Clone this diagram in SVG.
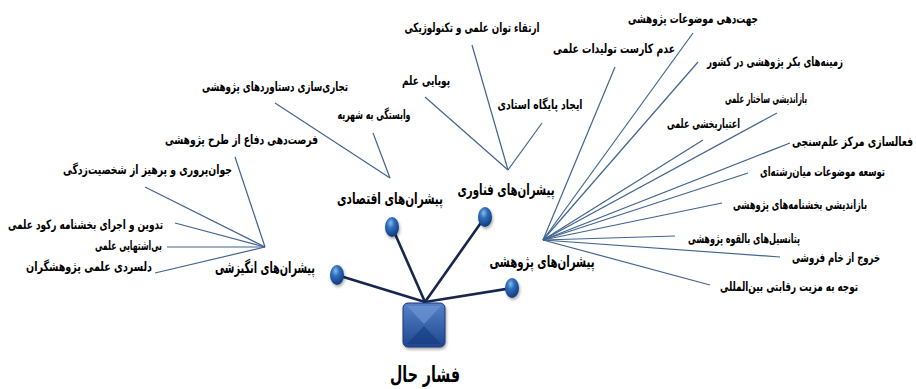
<svg xmlns="http://www.w3.org/2000/svg" width="916" height="389" viewBox="0 0 916 389">
<defs>
<style>
.t{font-family:"DejaVu Sans Condensed","DejaVu Sans",sans-serif;font-stretch:condensed;font-weight:bold;font-size:13px;fill:#000}
.m{font-family:"DejaVu Sans Condensed","DejaVu Sans",sans-serif;font-stretch:condensed;font-weight:bold;font-size:16px;fill:#000;text-anchor:middle}
.c{font-family:"DejaVu Sans Condensed","DejaVu Sans",sans-serif;font-stretch:condensed;font-weight:bold;font-size:22px;fill:#000;text-anchor:middle}
.s{text-anchor:start}
.e{text-anchor:end}
.mid{text-anchor:middle}
.leaf{stroke:#41648f;stroke-width:1.2;fill:none}
.spoke{stroke:#17264f;stroke-width:2.6;fill:none;stroke-linecap:round}
.ball{fill:url(#bg)}
</style>
<radialGradient id="bg" cx="0.4" cy="0.3" r="0.75">
<stop offset="0" stop-color="#8bbcea"/>
<stop offset="0.35" stop-color="#2f6fbe"/>
<stop offset="1" stop-color="#0f3474"/>
</radialGradient>
<linearGradient id="sq" x1="0" y1="0" x2="0" y2="1">
<stop offset="0" stop-color="#5582c8"/>
<stop offset="1" stop-color="#1f4690"/>
</linearGradient>
<filter id="sh" x="-30%" y="-30%" width="160%" height="160%">
<feGaussianBlur in="SourceAlpha" stdDeviation="1.5"/>
<feOffset dx="1" dy="2" result="b"/>
<feComponentTransfer><feFuncA type="linear" slope="0.35"/></feComponentTransfer>
<feMerge><feMergeNode/><feMergeNode in="SourceGraphic"/></feMerge>
</filter>
</defs>
<rect width="916" height="389" fill="#fff"/>

<g id="connectors">
<g class="leaf">
<line x1="265" y1="247" x2="235" y2="157"/>
<line x1="265" y1="247" x2="145" y2="187"/>
<line x1="265" y1="247" x2="175" y2="223"/>
<line x1="265" y1="247" x2="167" y2="247"/>
<line x1="265" y1="247" x2="155" y2="273"/>
<line x1="390" y1="178" x2="275" y2="103"/>
<line x1="390" y1="178" x2="373" y2="133"/>
<line x1="508" y1="170" x2="472" y2="45"/>
<line x1="508" y1="170" x2="425" y2="97"/>
<line x1="508" y1="170" x2="542" y2="123"/>
<line x1="543" y1="240" x2="693" y2="33"/>
<line x1="543" y1="240" x2="615" y2="67"/>
<line x1="543" y1="240" x2="698" y2="62"/>
<line x1="543" y1="240" x2="777" y2="113"/>
<line x1="543" y1="240" x2="703" y2="140"/>
<line x1="543" y1="240" x2="790" y2="143"/>
<line x1="543" y1="240" x2="748" y2="173"/>
<line x1="543" y1="240" x2="722" y2="203"/>
<line x1="543" y1="240" x2="675" y2="236"/>
<line x1="543" y1="240" x2="780" y2="257"/>
<line x1="543" y1="240" x2="710" y2="285"/>
</g>
<g class="spoke">
<line x1="425" y1="302" x2="337" y2="275"/>
<line x1="425" y1="302" x2="392" y2="227"/>
<line x1="425" y1="302" x2="485" y2="217"/>
<line x1="425" y1="302" x2="512" y2="288"/>
</g>
</g>

<g id="center">
<g filter="url(#sh)">
<rect x="403" y="303" width="42" height="44" rx="5" fill="url(#sq)" stroke="#1a3a7a" stroke-width="1"/>
<polygon points="407,306 441,306 424,324" fill="#6d95d3" opacity="0.7"/>
<polygon points="407,344 441,344 424,326" fill="#163b80" opacity="0.6"/>
</g>
<text class="c" x="425" y="382" textLength="70" lengthAdjust="spacingAndGlyphs">فشار حال</text>
</g>

<g id="motivational">
<ellipse class="ball" cx="337" cy="275" rx="7" ry="10" filter="url(#sh)"/>
<text class="m" x="265" y="273" textLength="100" lengthAdjust="spacingAndGlyphs">پیشران‌های انگیزشی</text>
<text class="t s" x="165" y="144" textLength="153" lengthAdjust="spacingAndGlyphs">فرصت‌دهی دفاع از طرح پژوهشی</text>
<text class="t s" x="63" y="174" textLength="169" lengthAdjust="spacingAndGlyphs">جوان‌پروری و پرهیز از شخصیت‌زدگی</text>
<text class="t s" x="8" y="229" textLength="155" lengthAdjust="spacingAndGlyphs">تدوین و اجرای بخشنامه رکود علمی</text>
<text class="t s" x="95" y="250" textLength="67" lengthAdjust="spacingAndGlyphs">بی‌اشتهایی علمی</text>
<text class="t s" x="26" y="271" textLength="126" lengthAdjust="spacingAndGlyphs">دلسردی علمی پژوهشگران</text>
</g>

<g id="economic">
<ellipse class="ball" cx="392" cy="227" rx="7" ry="10" filter="url(#sh)"/>
<text class="m" x="390" y="204" textLength="106" lengthAdjust="spacingAndGlyphs">پیشران‌های اقتصادی</text>
<text class="t mid" x="275" y="91" textLength="146" lengthAdjust="spacingAndGlyphs">تجاری‌سازی دستاوردهای پژوهشی</text>
<text class="t mid" x="374" y="119" textLength="73" lengthAdjust="spacingAndGlyphs">وابستگی به شهریه</text>
</g>

<g id="technology">
<ellipse class="ball" cx="485" cy="217" rx="7" ry="10" filter="url(#sh)"/>
<text class="m" x="506" y="195" textLength="97" lengthAdjust="spacingAndGlyphs">پیشران‌های فناوری</text>
<text class="t mid" x="472" y="32" textLength="135" lengthAdjust="spacingAndGlyphs">ارتقاء توان علمی و تکنولوژیکی</text>
<text class="t mid" x="426" y="85" textLength="48" lengthAdjust="spacingAndGlyphs">پویایی علم</text>
<text class="t mid" x="540" y="109" textLength="85" lengthAdjust="spacingAndGlyphs">ایجاد پایگاه استادی</text>
</g>

<g id="research">
<ellipse class="ball" cx="512" cy="288" rx="7" ry="10" filter="url(#sh)"/>
<text class="m" x="542" y="267" textLength="105" lengthAdjust="spacingAndGlyphs">پیشران‌های پژوهشی</text>
<text class="t e" transform="translate(758,23) scale(0.75,1)" textLength="173.3" lengthAdjust="spacingAndGlyphs">جهت‌دهی موضوعات پژوهشی</text>
<text class="t e" transform="translate(675,53) scale(0.75,1)" textLength="162.7" lengthAdjust="spacingAndGlyphs">عدم کارست تولیدات علمی</text>
<text class="t e" transform="translate(843,66) scale(0.75,1)" textLength="181.3" lengthAdjust="spacingAndGlyphs">زمینه‌های بکر پژوهشی در کشور</text>
<text class="t e" transform="translate(807,103) scale(0.75,1)" textLength="109.3" lengthAdjust="spacingAndGlyphs">بازاندیشی ساختار علمی</text>
<text class="t e" transform="translate(740,128) scale(0.75,1)" textLength="97.3" lengthAdjust="spacingAndGlyphs">اعتباربخشی علمی</text>
<text class="t e" transform="translate(913,146) scale(0.75,1)" textLength="161.3" lengthAdjust="spacingAndGlyphs">فعالسازی مرکز علم‌سنجی</text>
<text class="t e" transform="translate(885,176) scale(0.75,1)" textLength="166.7" lengthAdjust="spacingAndGlyphs">توسعه موضوعات میان‌رشته‌ای</text>
<text class="t e" transform="translate(867,209) scale(0.75,1)" textLength="178.7" lengthAdjust="spacingAndGlyphs">بازاندیشی بخشنامه‌های پژوهشی</text>
<text class="t e" transform="translate(800,243) scale(0.75,1)" textLength="149.3" lengthAdjust="spacingAndGlyphs">پتانسیل‌های بالقوه پژوهشی</text>
<text class="t e" transform="translate(880,262) scale(0.75,1)" textLength="117.3" lengthAdjust="spacingAndGlyphs">خروج از خام فروشی</text>
<text class="t e" transform="translate(858,291) scale(0.75,1)" textLength="184" lengthAdjust="spacingAndGlyphs">توجه به مزیت رقابتی بین‌المللی</text>
</g>
</svg>
